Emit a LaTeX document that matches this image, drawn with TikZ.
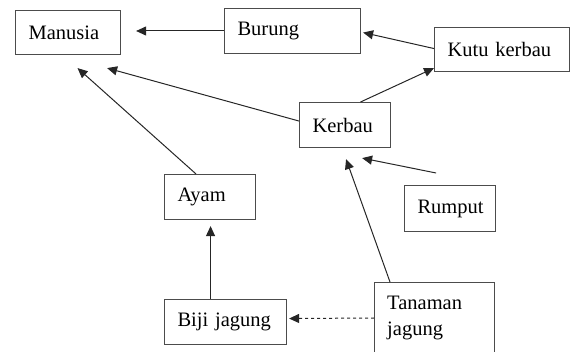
\documentclass[tikz,border=0pt]{standalone}
\usepackage{fontspec}
\setmainfont{Liberation Serif}
\usetikzlibrary{arrows.meta,calc}
\begin{document}
\begin{tikzpicture}[x=1pt,y=-1pt,
  box/.style={draw=black!70,line width=1.1pt,inner ysep=0pt,inner xsep=13pt,anchor=north west,align=left,font=\fontsize{20.5}{26}\selectfont},
  txt/.style={inner sep=0pt,anchor=north west,align=left,font=\fontsize{20.5}{26}\selectfont},
  arr/.style={draw=black!85,line width=1pt,-{Triangle[length=10pt,width=9pt]}}]
\useasboundingbox (0,0) rectangle (578,352);
\node[box,text width=79pt,minimum height=44pt] (manusia) at (15,10) {Manusia};
\node[box,text width=110pt,minimum height=45pt] (burung) at (224,8) {Burung};
\node[box,text width=109pt,minimum height=44pt] (kutu) at (434,27) {Kutu kerbau};
\node[box,text width=65pt,minimum height=45pt] (kerbau) at (299,102) {Kerbau};
\node[box,text width=65pt,minimum height=45pt] (ayam) at (164,174) {Ayam};
\node[box,text width=96pt,minimum height=45pt] (biji) at (164,299) {Biji jagung};
\node[box,text width=65pt,minimum height=46pt] (rumput) at (404,185) {Rumput};
\node[box,text width=94pt,minimum height=90pt] (tj) at (374,282) {};
\node[txt] (tjtext) at (387,296) {Tanaman\\jagung};
% arrows
\draw[arr,shorten >=15pt] (burung.west |- 0,31) -- (manusia.east |- 0,31);
\draw[arr] ($(kutu.west)+(0,-1)$) -- ($(burung.east)+(2,1.5)$);
\draw[arr] ($(kerbau.north)+(15.5,0)$) -- ($(kutu.south west)+(0,-4)$);
\draw[arr] ($(kerbau.west)+(0,-4)$) -- ($(manusia.south east)+(-14,13)$);
\draw[arr] ($(ayam.north)+(-14,0)$) -- ($(manusia.south)+(9.5,13)$);
\draw[arr] ($(biji.north)+(-15,0)$) -- ($(ayam.south)+(0.5,6)$);
\draw[arr] ($(tj.north west)+(16,0)$) -- ($(kerbau.south)+(1,11)$);
\draw[arr] ($(rumput.north)+(-14,-12)$) -- ($(kerbau.south east)+(-29,10)$);
\draw[arr,dashed] ($(tj.north west)+(0,36)$) -- ($(biji.east)+(2,-3.5)$);
\end{tikzpicture}
\end{document}
